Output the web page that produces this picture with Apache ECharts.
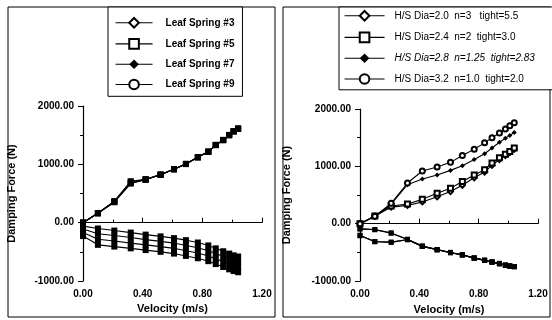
<!DOCTYPE html>
<html lang="en">

<head>
    <meta charset="UTF-8">
    <title>Damping force</title>
    <script src="https://cdn.jsdelivr.net/npm/echarts@6/dist/echarts.min.js"></script>
    <style>
        html, body {
            margin: 0;
            padding: 0;
            background: #fff;
        }

        #main {
            width: 552px;
            height: 320px;
        }
    </style>
</head>

<body>
    <div id="main"></div>
    <script>
        // velocity (m/s), same sampling in both panels
        var velocity = [0, 0.1, 0.21, 0.32, 0.42, 0.52, 0.61, 0.69, 0.77, 0.84, 0.89, 0.94, 0.98, 1.01, 1.04];

        // left panel - leaf springs
        var leftNames = ['Leaf Spring #3', 'Leaf Spring #5', 'Leaf Spring #7', 'Leaf Spring #9'];
        var ls3Comp = [0, 160, 350, 670, 735, 820, 915, 1005, 1120, 1215, 1330, 1415, 1500, 1565, 1610];
        var ls5Comp = [0, 160, 355, 680, 740, 825, 915, 1005, 1120, 1215, 1330, 1415, 1500, 1565, 1610];
        var ls7Comp = [0, 165, 370, 710, 745, 825, 920, 1010, 1125, 1220, 1335, 1420, 1505, 1570, 1615];
        var ls9Comp = [0, 165, 360, 700, 740, 820, 915, 1005, 1120, 1215, 1330, 1415, 1500, 1565, 1610];
        var ls3Reb = [-60, -100, -135, -170, -205, -235, -265, -300, -340, -390, -440, -490, -530, -560, -580];
        var ls5Reb = [-110, -190, -220, -255, -290, -320, -350, -390, -430, -480, -530, -580, -620, -650, -670];
        var ls7Reb = [-170, -285, -315, -350, -380, -410, -440, -480, -520, -570, -620, -670, -710, -740, -760];
        var ls9Reb = [-230, -380, -410, -440, -470, -500, -530, -570, -610, -660, -710, -760, -800, -830, -850];

        // right panel - H/S diameter
        var rightNames = [
            'H/S Dia=2.0  n=3   tight=5.5',
            'H/S Dia=2.4  n=2  tight=3.0',
            'H/S Dia=2.8  n=1.25  tight=2.83',
            'H/S Dia=3.2  n=1.0  tight=2.0'
        ];
        var dia20Comp = [0, 130, 290, 320, 380, 470, 560, 670, 800, 900, 1020, 1120, 1190, 1240, 1300];
        var dia24Comp = [0, 135, 310, 345, 425, 530, 620, 735, 850, 940, 1060, 1150, 1210, 1260, 1320];
        var dia28Comp = [0, 130, 340, 680, 780, 850, 930, 1010, 1120, 1220, 1320, 1420, 1490, 1540, 1590];
        var dia32Comp = [0, 130, 355, 710, 920, 990, 1070, 1190, 1300, 1410, 1500, 1580, 1650, 1710, 1760];
        var dia20Reb = [-90, -100, -160, -270, -390, -450, -500, -540, -600, -635, -665, -695, -720, -735, -745];
        var dia24Reb = [-90, -105, -165, -275, -395, -455, -505, -545, -600, -640, -670, -700, -725, -740, -750];
        var dia28Reb = [-200, -310, -320, -275, -390, -450, -500, -540, -595, -635, -665, -690, -720, -735, -745];
        var dia32Reb = [-210, -315, -325, -280, -395, -455, -505, -545, -600, -640, -670, -695, -725, -740, -750];

        var yTicks = { min: -1000, max: 2000, interval: 1000 };
        var xTicks = { min: 0, max: 1.2, interval: 0.4 };

        var legendSymbols = ['emptyDiamond', 'emptyRect', 'diamond', 'emptyCircle'];
        var font = 'Liberation Sans, Arial, sans-serif';

        function pts(vals, markOverride) {
            return vals.map(function (v, i) {
                var p = { value: [velocity[i], v] };
                if (markOverride) p.symbol = markOverride;
                return p;
            });
        }

        function line(name, idx, vals, symbol, markOverride, size) {
            return {
                name: name,
                type: 'line',
                xAxisIndex: idx,
                yAxisIndex: idx,
                data: pts(vals, markOverride),
                symbol: symbol,
                symbolSize: size,
                showAllSymbol: true,
                color: '#000',
                lineStyle: { color: '#000', width: 1.1 },
                itemStyle: { color: '#000', borderWidth: 1 },
                animation: false
            };
        }

        function xAxis(idx) {
            return {
                type: 'value',
                gridIndex: idx,
                min: xTicks.min,
                max: xTicks.max,
                interval: xTicks.interval,
                name: 'Velocity (m/s)',
                nameLocation: 'middle',
                nameGap: 21,
                nameTextStyle: { color: '#000', fontFamily: font, fontSize: 11, fontWeight: 'bold' },
                axisLine: { lineStyle: { color: '#000', width: 1.2 } },
                axisTick: { inside: true, length: 5, lineStyle: { color: '#000' } },
                minorTick: { show: true, splitNumber: 2, length: 3, lineStyle: { color: '#000' } },
                splitLine: { show: false },
                axisLabel: {
                    color: '#000', fontFamily: font, fontSize: 10, fontWeight: 'bold', margin: 8,
                    formatter: function (v) { return v.toFixed(2); }
                }
            };
        }

        function yAxis(idx, gap) {
            return {
                type: 'value',
                gridIndex: idx,
                min: yTicks.min,
                max: yTicks.max,
                interval: yTicks.interval,
                name: 'Damping Force (N)',
                nameLocation: 'middle',
                nameGap: gap,
                nameTextStyle: { color: '#000', fontFamily: font, fontSize: 11, fontWeight: 'bold' },
                axisLine: { lineStyle: { color: '#000', width: 1.2 } },
                axisTick: { length: 5, lineStyle: { color: '#000' } },
                minorTick: { show: true, splitNumber: 2, length: 3, lineStyle: { color: '#000' } },
                splitLine: { show: false },
                axisLabel: {
                    color: '#000', fontFamily: font, fontSize: 10, fontWeight: 'bold', margin: 9,
                    formatter: function (v) { return v.toFixed(2); }
                }
            };
        }

        var leftComp = [ls3Comp, ls5Comp, ls7Comp, ls9Comp];
        var leftReb = [ls3Reb, ls5Reb, ls7Reb, ls9Reb];
        var rightComp = [dia20Comp, dia24Comp, dia28Comp, dia32Comp];
        var rightReb = [dia20Reb, dia24Reb, dia28Reb, dia32Reb];

        var series = [];
        for (var k = 0; k < 4; k++) {
            // left: markers pile up into black squares in the original
            series.push(line(leftNames[k], 0, leftComp[k], legendSymbols[k], 'rect', 6));
            series.push(line(leftNames[k], 0, leftReb[k], legendSymbols[k], 'rect', 6));
            series.push(line(rightNames[k], 1, rightComp[k], legendSymbols[k], null, 5));
            series.push(line(rightNames[k], 1, rightReb[k], legendSymbols[k], 'rect', 5));
        }

        var chart = echarts.init(document.getElementById('main'));
        chart.setOption({
            backgroundColor: '#fff',
            animation: false,
            textStyle: { fontFamily: font },
            graphic: [
                { type: 'rect', shape: { x: 8, y: 7, width: 267, height: 310 }, style: { fill: 'none', stroke: '#000', lineWidth: 1 } },
                { type: 'rect', shape: { x: 283, y: 7, width: 267, height: 310 }, style: { fill: 'none', stroke: '#000', lineWidth: 1 } }
            ],
            grid: [
                { left: 83, top: 106, width: 179, height: 175 },
                { left: 360, top: 109, width: 178, height: 173 }
            ],
            legend: [
                {
                    data: leftNames,
                    orient: 'vertical',
                    left: 108,
                    top: 7,
                    padding: [10, 8, 6, 7],
                    itemWidth: 37,
                    itemHeight: 12,
                    itemGap: 9.5,
                    borderColor: '#000',
                    borderWidth: 1,
                    backgroundColor: '#fff',
                    selectedMode: false,
                    lineStyle: { width: 1.1 },
                    textStyle: { color: '#000', fontFamily: font, fontSize: 10, fontWeight: 'bold', padding: [0, 0, 0, 8] }
                },
                {
                    data: rightNames.map(function (n, i) {
                        return i === 2 ? { name: n, textStyle: { fontStyle: 'italic' } } : n;
                    }),
                    orient: 'vertical',
                    left: 339,
                    top: 7,
                    padding: [3, 20, 5, 5],
                    itemWidth: 40,
                    itemHeight: 12,
                    itemGap: 10,
                    borderColor: '#000',
                    borderWidth: 1,
                    backgroundColor: '#fff',
                    selectedMode: false,
                    lineStyle: { width: 1.1 },
                    textStyle: { color: '#000', fontFamily: font, fontSize: 10, padding: [0, 0, 0, 5] }
                }
            ],
            xAxis: [xAxis(0), xAxis(1)],
            yAxis: [yAxis(0, 66), yAxis(1, 68)],
            series: series
        });
    </script>
</body>

</html>
